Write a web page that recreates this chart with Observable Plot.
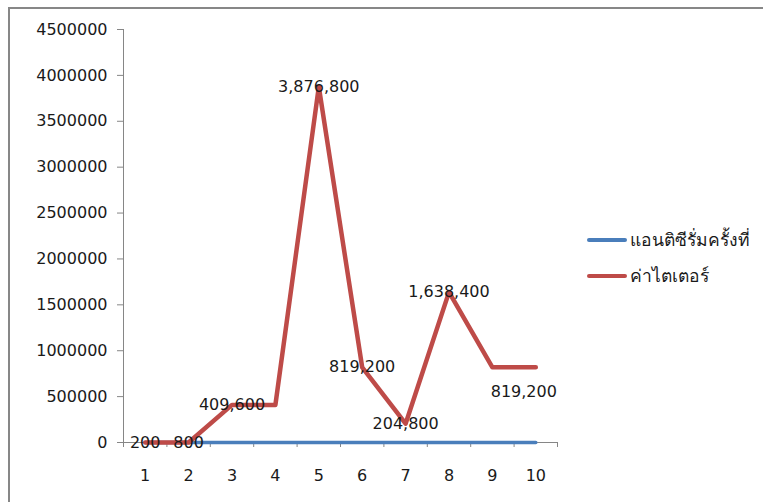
<!DOCTYPE html>
<html><head><meta charset="utf-8">
<script src="https://cdn.jsdelivr.net/npm/d3@7"></script>
<script src="https://cdn.jsdelivr.net/npm/@observablehq/plot@0.6"></script>
<style>
body{margin:0;background:#fff;}
#wrap{position:relative;width:763px;height:502px;overflow:hidden;background:#fff;font-family:"DejaVu Sans",sans-serif;}
#border{position:absolute;left:8px;top:7px;width:900px;height:700px;border-left:2px solid #878787;border-top:2px solid #878787;}
#chart{position:absolute;left:0;top:0;}
#legend{position:absolute;left:587px;top:222px;font-size:17.5px;color:#1a1a1a;}
.item{display:flex;align-items:center;height:36px;white-space:nowrap;}
.swatch{width:40px;height:4px;margin-right:3px;border-radius:2px;}
</style></head>
<body><div id="wrap"><div id="border"></div><div id="chart"></div><div id="legend"></div></div>
<script>
const categories = [1, 2, 3, 4, 5, 6, 7, 8, 9, 10];
const antiserum = [1, 2, 3, 4, 5, 6, 7, 8, 9, 10];
const titer = [200, 800, 409600, 409600, 3876800, 819200, 204800, 1638400, 819200, 819200];
const titerLabels = ["200", "800", "409,600", "", "3,876,800", "819,200", "204,800", "1,638,400", "", "819,200"];
const yTicks = [0, 500000, 1000000, 1500000, 2000000, 2500000, 3000000, 3500000, 4000000, 4500000];
const seriesNames = ["แอนติซีรั่มครั้งที่", "ค่าไตเตอร์"];
const seriesColors = ["#4A7EBB", "#BE4B48"];

const blueData = categories.map((c, i) => ({x: c, y: antiserum[i]}));
const redData = categories.map((c, i) => ({x: c, y: titer[i], label: titerLabels[i], last: i === categories.length - 1}));
const boundaries = [categories[0] - 0.5, ...categories.map(c => c + 0.5)];

const plot = Plot.plot({
  width: 763, height: 502,
  marginLeft: 123, marginRight: 206, marginTop: 29, marginBottom: 60,
  style: {fontFamily: "DejaVu Sans, sans-serif", fontSize: "16px", color: "#1a1a1a", background: "transparent"},
  x: {type: "linear", domain: [boundaries[0], boundaries[boundaries.length - 1]]},
  y: {domain: [0, 4500000]},
  marks: [
    Plot.axisY({ticks: yTicks, tickSize: 6, tickPadding: 10, tickFormat: d => String(d), stroke: "#868686", label: null, fontSize: 16}),
    Plot.axisX({ticks: boundaries, tickSize: 5, tickFormat: () => "", stroke: "#868686", label: null}),
    Plot.axisX({ticks: categories, tickSize: 0, tickPadding: 27, tickFormat: d => String(d), label: null, fontSize: 16}),
    Plot.frame({anchor: "left", stroke: "#868686"}),
    Plot.frame({anchor: "bottom", stroke: "#868686"}),
    Plot.line(blueData, {x: "x", y: "y", stroke: seriesColors[0], strokeWidth: 3.5}),
    Plot.line(redData, {x: "x", y: "y", stroke: seriesColors[1], strokeWidth: 4.5, strokeLinejoin: "round"}),
    Plot.text(redData.filter(d => d.label && !d.last), {x: "x", y: "y", text: "label", fill: "#1a1a1a", fontSize: 16}),
    Plot.text(redData.filter(d => d.label && d.last), {x: "x", y: "y", text: "label", fill: "#1a1a1a", fontSize: 16, dx: -12, dy: 25})
  ]
});
document.getElementById("chart").appendChild(plot);

const legend = document.getElementById("legend");
seriesNames.forEach((name, i) => {
  const item = document.createElement("div");
  item.className = "item";
  const sw = document.createElement("span");
  sw.className = "swatch";
  sw.style.background = seriesColors[i];
  const t = document.createElement("span");
  t.textContent = name;
  item.appendChild(sw); item.appendChild(t);
  legend.appendChild(item);
});
</script>
</body></html>
